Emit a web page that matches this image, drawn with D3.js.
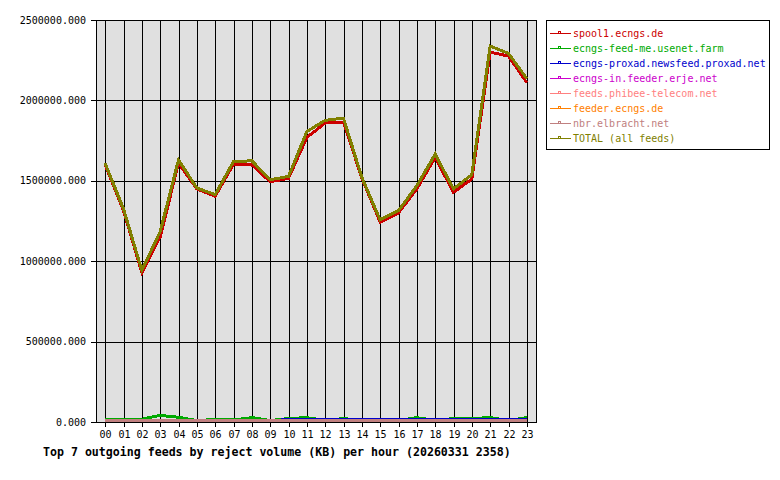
<!DOCTYPE html>
<html>
<head>
<meta charset="utf-8">
<script src="https://cdn.jsdelivr.net/npm/d3@7/dist/d3.min.js"></script>
<style>
  html, body { margin: 0; padding: 0; background: #ffffff; }
  svg { display: block; }
  text { font-family: "DejaVu Sans Mono", "Liberation Mono", monospace; }
</style>
</head>
<body>
<svg id="chart" width="780" height="480"></svg>
<script>
// ---- data ----
const hours = ["00","01","02","03","04","05","06","07","08","09","10","11","12","13","14","15","16","17","18","19","20","21","22","23"];
const yTicks = [0, 500000, 1000000, 1500000, 2000000, 2500000];
const seriesNames = [
  "spool1.ecngs.de",
  "ecngs-feed-me.usenet.farm",
  "ecngs-proxad.newsfeed.proxad.net",
  "ecngs-in.feeder.erje.net",
  "feeds.phibee-telecom.net",
  "feeder.ecngs.de",
  "nbr.elbracht.net",
  "TOTAL (all feeds)"
];
const seriesColors = ["#cc0000", "#00aa00", "#0000cc", "#cc00cc", "#ff8080", "#ff8000", "#c08080", "#808000"];

const spool1   = [1590000, 1305000, 920000, 1142000, 1600000, 1440000, 1395000, 1595000, 1590000, 1485000, 1506000, 1760000, 1850000, 1855000, 1508000, 1234000, 1291000, 1440000, 1636000, 1419000, 1502000, 2291000, 2266000, 2101000];
const usenetFarm = [6000, 6000, 8000, 32000, 20000, 0, 6000, 3000, 18000, 0, 12000, 18000, 0, 12000, 0, 0, 0, 18000, 0, 12000, 12000, 18000, 0, 18000];
const proxad   = [0, 0, 0, 0, 0, 0, 0, 0, 0, 0, 5000, 5000, 5000, 5000, 5000, 5000, 5000, 5000, 5000, 5000, 5000, 5000, 5000, 5000];
const erje     = [0, 0, 0, 0, 0, 0, 0, 0, 0, 0, 0, 0, 0, 0, 0, 0, 0, 0, 0, 0, 0, 0, 0, 0];
const phibee   = [0, 0, 0, 0, 0, 0, 0, 0, 0, 0, 0, 0, 0, 0, 0, 0, 0, 0, 0, 0, 0, 0, 0, 0];
const feederEcngs = [0, 0, 0, 0, 0, 0, 0, 0, 0, 0, 0, 0, 0, 0, 0, 0, 0, 0, 0, 0, 0, 0, 0, 0];
const elbracht = [0, 0, 0, 0, 0, 0, 0, 0, 0, 0, 0, 0, 0, 0, 0, 0, 0, 0, 0, 0, 0, 0, 0, 0];
const total    = [1600000, 1316000, 934000, 1175000, 1621000, 1446000, 1405000, 1610000, 1615000, 1497000, 1518000, 1797000, 1867000, 1880000, 1512000, 1248000, 1305000, 1460000, 1657000, 1440000, 1529000, 2328000, 2283000, 2126000];
const titleText = "Top 7 outgoing feeds by reject volume (KB) per hour (20260331 2358)";

const allSeries = [spool1, usenetFarm, proxad, erje, phibee, feederEcngs, elbracht, total];

// ---- layout ----
const svg = d3.select("#chart");
const plot = { left: 96, right: 536, top: 20, bottom: 422 };

const x = d3.scalePoint().domain(hours).range([plot.left, plot.right]).padding(0.5);
const y = d3.scaleLinear().domain([0, 2500000]).range([plot.bottom, plot.top]);

// background
svg.append("rect")
  .attr("x", plot.left).attr("y", plot.top)
  .attr("width", plot.right - plot.left).attr("height", plot.bottom - plot.top)
  .attr("fill", "#e0e0e0");

// vertical grid lines + x ticks
svg.append("g")
  .selectAll("line").data(hours).join("line")
  .attr("x1", d => Math.round(x(d)) + 0.5).attr("x2", d => Math.round(x(d)) + 0.5)
  .attr("y1", plot.top).attr("y2", plot.bottom + 5)
  .attr("stroke", "#000").attr("stroke-width", 1).attr("shape-rendering", "crispEdges");

// horizontal grid lines + y ticks
svg.append("g")
  .selectAll("line").data(yTicks).join("line")
  .attr("x1", plot.left - 5).attr("x2", plot.right + 1)
  .attr("y1", d => Math.round(y(d)) + 0.5).attr("y2", d => Math.round(y(d)) + 0.5)
  .attr("stroke", "#000").attr("stroke-width", 1).attr("shape-rendering", "crispEdges");

// border left/right
svg.append("line")
  .attr("x1", plot.left + 0.5).attr("x2", plot.left + 0.5)
  .attr("y1", plot.top).attr("y2", plot.bottom + 1)
  .attr("stroke", "#000").attr("shape-rendering", "crispEdges");
svg.append("line")
  .attr("x1", plot.right + 0.5).attr("x2", plot.right + 0.5)
  .attr("y1", plot.top).attr("y2", plot.bottom + 1)
  .attr("stroke", "#000").attr("shape-rendering", "crispEdges");

// y labels
svg.append("g")
  .selectAll("text").data(yTicks).join("text")
  .attr("x", 86).attr("y", d => y(d) + 3.5)
  .attr("text-anchor", "end")
  .attr("font-size", "10px")
  .attr("fill", "#000")
  .text(d3.format(".3f"));

// x labels
svg.append("g")
  .selectAll("text").data(hours).join("text")
  .attr("x", d => Math.round(x(d)) + 0.5).attr("y", 438)
  .attr("text-anchor", "middle")
  .attr("font-size", "10px")
  .attr("fill", "#000")
  .text(d => d);

// series lines
const line = d3.line()
  .x((d, i) => x(hours[i]))
  .y(d => y(d));

svg.append("g")
  .attr("transform", "translate(0,-1.5)")
  .selectAll("path").data(allSeries).join("path")
  .attr("d", d => line(d))
  .attr("fill", "none")
  .attr("stroke", (d, i) => seriesColors[i])
  .attr("stroke-width", 3)
  .attr("stroke-linejoin", "miter")
  .attr("shape-rendering", "crispEdges");

// legend
const lg = svg.append("g");
lg.append("rect")
  .attr("x", 546.5).attr("y", 20.5).attr("width", 223).attr("height", 129)
  .attr("fill", "#fff").attr("stroke", "#000").attr("shape-rendering", "crispEdges");
seriesNames.forEach((name, i) => {
  const cy = 33 + i * 15;
  const c = seriesColors[i];
  lg.append("line")
    .attr("x1", 550).attr("x2", 571).attr("y1", cy + 0.5).attr("y2", cy + 0.5)
    .attr("stroke", c).attr("shape-rendering", "crispEdges");
  lg.append("rect")
    .attr("x", 558.5).attr("y", cy - 1.5).attr("width", 2).attr("height", 2)
    .attr("fill", "none")
    .attr("stroke", c).attr("shape-rendering", "crispEdges");
  lg.append("text")
    .attr("x", 573).attr("y", cy + 4)
    .attr("font-size", "10px")
    .attr("fill", c)
    .text(name);
});

// title
svg.append("text")
  .attr("x", 43).attr("y", 455.5)
  .attr("font-size", "11.6px")
  .attr("font-weight", "bold")
  .attr("fill", "#000")
  .text(titleText);
</script>
</body>
</html>
